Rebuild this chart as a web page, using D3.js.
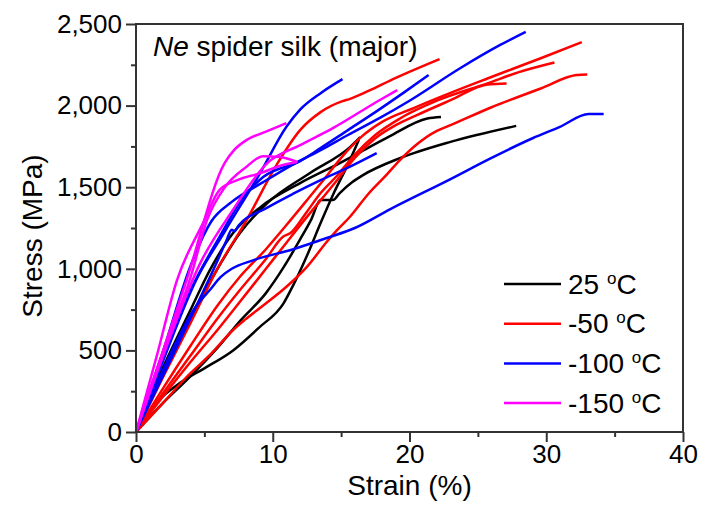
<!DOCTYPE html>
<html>
<head>
<meta charset="utf-8">
<script src="https://cdn.jsdelivr.net/npm/d3@7"></script>
<style>
body { margin: 0; background: #fff; }
text { font-family: "Liberation Sans", Arial, sans-serif; fill: #000; }
</style>
</head>
<body>
<svg width="703" height="508"></svg>
<script>
// strain (%), stress (MPa)
var black1 = [[0,0],[2,400],[4,750],[5.4,992],[7.1,1219],[9.1,1378],[12,1525],[14.9,1648],[16.9,1738],[18.5,1810],[21.3,1921],[22.3,1930]];
var black2 = [[0,0],[2,180],[3.7,318],[6,520],[7.6,680],[9.5,851],[10.8,1010],[12,1180],[12.8,1300],[13.5,1421],[14.4,1421],[14.9,1464],[15.8,1530],[16.6,1574],[19.3,1678],[23,1778],[27.8,1876]];
var black3 = [[0,0],[2,370],[4,700],[5.9,992],[7.6,1219],[9.6,1403],[12.7,1586],[15.65,1746],[16.4,1807]];
var black4 = [[0,0],[1.5,180],[3.2,300],[5,390],[7.1,500],[9,640],[10.8,790],[11.5,900],[12.5,1080],[13.5,1280],[14.5,1470],[15.5,1640],[16.3,1790]];

var red1 = [[0,0],[2,340],[4,670],[5.9,992],[8.1,1300],[10.3,1640],[12,1850],[13.5,1960],[15.1,2027],[15.6,2040],[17,2090],[19,2170],[22.2,2285]];
var red2 = [[0,0],[2,270],[4,530],[6,780],[7.6,951],[9.5,1120],[11.3,1298],[12.5,1420],[13.7,1543],[15,1680],[16.5,1810],[18,1900],[20.3,1985],[23,2078],[25.7,2166],[29.6,2290],[32.6,2389]];
var red3 = [[0,0],[2,240],[4,470],[6,700],[7.6,870],[9.5,1060],[10.75,1196],[11.3,1219],[12.5,1350],[13.5,1464],[14.7,1570],[16,1700],[17.5,1820],[19.3,1921],[22,2030],[25.7,2136],[28,2205],[30.6,2264]];
var red4 = [[0,0],[2,180],[3.7,337],[5.5,480],[7.1,625],[8,690],[9.3,775],[11,890],[12.5,1012],[14,1170],[14.7,1237],[15.65,1319],[17,1460],[18.3,1574],[19.3,1666],[20.5,1760],[22,1845],[23,1880],[26,1990],[29.6,2105],[32.2,2187],[33,2191]];
var red5 = [[0,0],[2,220],[4,430],[6,630],[7.6,798],[9.5,1000],[11,1160],[12.5,1318],[13.6,1430],[14.7,1543],[16,1680],[17.5,1800],[19,1880],[20.5,1940],[23,2033],[25.7,2130],[27.1,2136]];

var blue1 = [[0,0],[2,500],[4,1020],[5.5,1290],[7,1410],[9.3,1531],[11.5,1640],[13.5,1727],[15.5,1820],[17.8,1923],[20,2030],[23.7,2229],[26.6,2370],[28.5,2452]];
var blue2 = [[0,0],[2,440],[4.4,931],[6.5,1230],[9.1,1590],[11,1870],[12,1975],[13.5,2076],[15.1,2162]];
var blue3 = [[0,0],[2,450],[4,870],[6.1,1194],[7.7,1420],[9.3,1562],[12,1660],[13.5,1740],[15.5,1850],[17.5,1960],[19.5,2075],[21.4,2187]];
var blue4 = [[0,0],[2,350],[4,700],[5.8,1020],[6.6,1170],[7,1240],[7.2,1230],[7.5,1265],[9.5,1370],[11.5,1460],[13.5,1543],[15.5,1620],[17.6,1709]];
var blue5 = [[0,0],[1.5,290],[3,560],[4.3,760],[5.4,870],[6.2,950],[7,1000],[8.5,1050],[11.5,1120],[14,1190],[16,1250],[18.6,1366],[23,1550],[26,1680],[29,1800],[31,1870],[33.1,1948],[34.2,1948]];

var magenta1 = [[0,0],[2,470],[4.7,1035],[7,1350],[9.6,1648],[12,1758],[14.4,1862],[17.8,2033],[19.1,2095]];
var magenta2 = [[0,0],[3.7,931],[6.5,1650],[7.2,1730],[8.1,1790],[9.5,1840],[11,1893]];
var magenta3 = [[0,0],[1.5,460],[3,931],[4.9,1280],[6.1,1482],[7.4,1543],[9.1,1586],[10.5,1630],[11.8,1654]];
var magenta4 = [[0,0],[2,500],[4,950],[5.2,1300],[6.5,1500],[8,1620],[9.3,1690],[10.5,1685],[11.8,1655]];

var groups = ["25", "-50", "-100", "-150"];
var curves = [
    [black1, black2, black3, black4],
    [red1, red2, red3, red4, red5],
    [blue1, blue2, blue3, blue4, blue5],
    [magenta1, magenta2, magenta3, magenta4]
];
var xTicks = [0, 10, 20, 30, 40];
var xMinor = [5, 15, 25, 35];
var yTicks = [0, 500, 1000, 1500, 2000, 2500];
var yMinor = [250, 750, 1250, 1750, 2250];

var colors = ["#000000", "#ff0000", "#0000ff", "#ff00ff"];

var svg = d3.select("svg");
var plotL = 136, plotR = 683, plotT = 24, plotB = 432;

var x = d3.scaleLinear().domain([0, 40]).range([plotL, plotR]);
var y = d3.scaleLinear().domain([0, 2500]).range([plotB, plotT]);

var line = d3.line()
    .x(function(d) { return x(d[0]); })
    .y(function(d) { return y(d[1]); })
    .curve(d3.curveMonotoneX);

curves.forEach(function(set, i) {
    svg.append("g").selectAll("path")
        .data(set)
        .enter()
        .append("path")
        .attr("d", line)
        .attr("fill", "none")
        .attr("stroke", colors[i])
        .attr("stroke-width", 2.5)
        .attr("stroke-linejoin", "round");
});

// frame
svg.append("rect")
    .attr("x", plotL).attr("y", plotT)
    .attr("width", plotR - plotL).attr("height", plotB - plotT)
    .attr("fill", "none").attr("stroke", "#333").attr("stroke-width", 2);

function styleAxis(g) {
    g.select(".domain").remove();
    g.selectAll("line").attr("stroke", "#333").attr("stroke-width", 2);
    g.selectAll("text").attr("font-size", 26).attr("fill", "#000")
        .style("font-family", '"Liberation Sans", Arial, sans-serif');
}

svg.append("g").attr("transform", "translate(0," + plotB + ")")
    .call(d3.axisBottom(x).tickValues(xTicks).tickSize(10).tickPadding(3))
    .call(styleAxis);
svg.append("g").attr("transform", "translate(0," + plotB + ")")
    .call(d3.axisBottom(x).tickValues(xMinor).tickSize(5).tickFormat(""))
    .call(styleAxis);
svg.append("g").attr("transform", "translate(" + plotL + ",0)")
    .call(d3.axisLeft(y).tickValues(yTicks).tickSize(10).tickPadding(4).tickFormat(d3.format(",")))
    .call(styleAxis);
svg.append("g").attr("transform", "translate(" + plotL + ",0)")
    .call(d3.axisLeft(y).tickValues(yMinor).tickSize(5).tickFormat(""))
    .call(styleAxis);

svg.append("text")
    .attr("x", (plotL + plotR) / 2).attr("y", 495)
    .attr("text-anchor", "middle").attr("font-size", 28)
    .text("Strain (%)");

svg.append("text")
    .attr("transform", "translate(42," + ((plotT + plotB) / 2 + 8) + ") rotate(-90)")
    .attr("text-anchor", "middle").attr("font-size", 28)
    .text("Stress (MPa)");

var title = svg.append("text").attr("x", 153).attr("y", 56).attr("font-size", 28);
title.append("tspan").attr("font-style", "italic").text("Ne");
title.append("tspan").text(" spider silk (major)");

// legend
var legend = svg.append("g").selectAll("g")
    .data(groups)
    .enter()
    .append("g")
    .attr("transform", function(d, i) { return "translate(504," + (284 + i * 39.7) + ")"; });

legend.append("line")
    .attr("x1", 0).attr("x2", 57)
    .attr("stroke", function(d, i) { return colors[i]; })
    .attr("stroke-width", 2.5);

var lt = legend.append("text")
    .attr("x", 64).attr("y", 9.5)
    .attr("font-size", 28)
    .style("white-space", "pre");
lt.append("tspan").text(function(d) { return d + " "; });
lt.append("tspan").attr("font-size", 17).attr("dy", -10).text("o");
lt.append("tspan").attr("dy", 10).text("C");
</script>
</body>
</html>
